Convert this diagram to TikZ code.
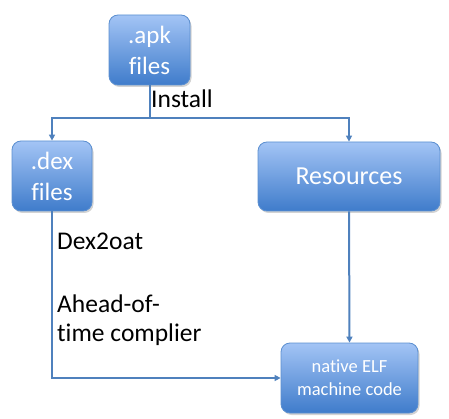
\documentclass[tikz,border=0pt]{standalone}
\usepackage{fontspec}
\setmainfont[Ligatures=NoCommon]{Carlito}
\usetikzlibrary{calc,positioning,shadows,arrows.meta}
\definecolor{boxtop}{HTML}{A3C4F5}
\definecolor{boxbot}{HTML}{3F7CCB}
\definecolor{boxline}{HTML}{5B8FD0}
\definecolor{wire}{HTML}{4F81BD}
\tikzset{
  box/.style={rectangle,rounded corners=9pt,draw=boxline,line width=0.8pt,
    top color=boxtop,bottom color=boxbot,text=white,align=center,
    drop shadow={shadow xshift=1.5pt,shadow yshift=-2pt,opacity=0.35}},
  wire/.style={draw=wire,line width=2pt},
  tip/.style={-{Triangle[length=6pt,width=6pt]}},
  lbl/.style={font=\fontsize{25.5}{29}\selectfont,align=left,inner sep=0pt}
}
\begin{document}
\begin{tikzpicture}[x=1pt,y=-1pt]
\useasboundingbox (0,0) rectangle (449,419);
% boxes
\node[box,minimum width=81pt,minimum height=70pt,font=\fontsize{25}{31}\selectfont] (apk) at (149.5,50) {.apk\\files};
\node[box,minimum width=80pt,minimum height=70pt,font=\fontsize{25}{31}\selectfont] (dex) at (52,176) {.dex\\files};
\node[box,minimum width=182pt,minimum height=69pt,font=\fontsize{26}{31}\selectfont] (res) at (349,176.5) {Resources};
\node[box,minimum width=137pt,minimum height=70pt,font=\fontsize{18.5}{23}\selectfont] (elf) at (349.5,378) {native ELF\\machine code};
% connectors
\coordinate (split) at (apk.south |- 0,118);
\draw[wire] (apk.south) -- (split);
\draw[wire,tip] (split) -| (dex.north);
\draw[wire,tip] (split) -| (res.north);
\draw[wire,tip] (res.south) -- (elf.north);
\draw[wire,tip] (dex.south) |- (elf.west);
% labels
\node[lbl,anchor=base west] (inst) at (151,108) {Install};
\node[lbl,anchor=base west] (d2o) at (57,250) {Dex2oat};
\node[lbl,anchor=base west] (aot) at (57,341) {Ahead-of-\\time complier};
\end{tikzpicture}
\end{document}
